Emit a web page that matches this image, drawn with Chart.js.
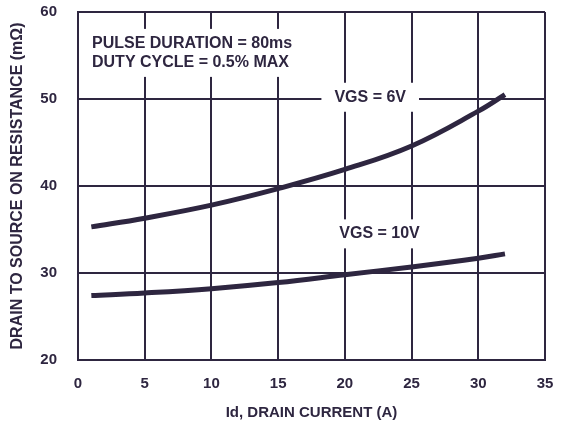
<!DOCTYPE html>
<html>
<head>
<meta charset="utf-8">
<script src="https://cdn.jsdelivr.net/npm/chart.js@4"></script>
<style>
  html, body { margin: 0; padding: 0; background: #fff; }
  #wrap { width: 562px; height: 424px; }
</style>
</head>
<body>
<div id="wrap"><canvas id="rdsChart" width="562" height="424"></canvas></div>
<script>
const ctx = document.getElementById("rdsChart");

// values
const drainCurrent = [1, 5, 10, 15, 20, 25, 30, 32];
const rds6V = [35.3, 36.3, 37.8, 39.7, 41.9, 44.6, 48.6, 50.5];
const rds10V = [27.4, 27.7, 28.2, 28.9, 29.8, 30.7, 31.7, 32.2];
const xTicks = [0, 5, 10, 15, 20, 25, 30, 35];
const yTicks = [20, 30, 40, 50, 60];

const ink = "#2e2640";
const family = "'Liberation Sans', Arial, sans-serif";
const font = { family: family, size: 15, weight: "bold" };

const toPoints = (ys) => drainCurrent.map((x, i) => ({ x: x, y: ys[i] }));

// boxed text labels placed in data coordinates
const notes = [
  { x: 21.9, y: 50.2, lines: ["VGS = 6V"], align: "center" },
  { x: 22.6, y: 34.5, lines: ["VGS = 10V"], align: "center" },
  { x: 1.05, y: 55.3, lines: ["PULSE DURATION = 80ms", "DUTY CYCLE = 0.5% MAX"], align: "left" }
];

const notesPlugin = {
  id: "notes",
  afterDatasetsDraw(chart) {
    const c = chart.ctx;
    const xs = chart.scales.x, ys = chart.scales.y;
    c.save();
    c.font = "bold 16px " + family;
    c.textBaseline = "middle";
    notes.forEach((n) => {
      const px = xs.getPixelForValue(n.x), py = ys.getPixelForValue(n.y);
      const lh = 19;
      const w = Math.max(...n.lines.map((l) => c.measureText(l).width));
      const h = lh * n.lines.length;
      const left = n.align === "center" ? px - w / 2 : px;
      c.fillStyle = "#fff";
      c.fillRect(left - 13, py - h / 2 - 5, w + 26, h + 10);
      c.fillStyle = ink;
      c.textAlign = "left";
      n.lines.forEach((l, i) => {
        c.fillText(l, left, py - h / 2 + lh * i + lh / 2);
      });
    });
    c.restore();
  }
};

new Chart(ctx, {
  type: "scatter",
  data: {
    datasets: [
      {
        label: "VGS = 6V",
        data: toPoints(rds6V),
        showLine: true,
        tension: 0.4,
        borderColor: ink,
        borderWidth: 5,
        pointRadius: 0
      },
      {
        label: "VGS = 10V",
        data: toPoints(rds10V),
        showLine: true,
        tension: 0.4,
        borderColor: ink,
        borderWidth: 5,
        pointRadius: 0
      }
    ]
  },
  options: {
    responsive: false,
    animation: false,
    layout: { padding: { left: 8, right: 17, top: 12, bottom: 2 } },
    plugins: {
      legend: { display: false },
      tooltip: { enabled: false }
    },
    scales: {
      x: {
        type: "linear",
        min: 0,
        max: 35,
        afterBuildTicks: (s) => { s.ticks = xTicks.map((v) => ({ value: v })); },
        afterFit: (s) => { s.height = 62; },
        grid: { color: ink, lineWidth: 2, drawTicks: true, tickLength: 14, tickColor: "rgba(0,0,0,0)" },
        border: { color: ink, width: 2 },
        ticks: { color: ink, font: font, padding: 1, maxRotation: 0 },
        title: {
          display: true,
          text: "Id, DRAIN CURRENT (A)",
          color: ink,
          font: font,
          padding: { top: 8, bottom: 0 }
        }
      },
      y: {
        min: 20,
        max: 60,
        afterBuildTicks: (s) => { s.ticks = yTicks.map((v) => ({ value: v })); },
        afterFit: (s) => { s.width = 70; },
        grid: { color: ink, lineWidth: 2, drawTicks: true, tickLength: 20, tickColor: "rgba(0,0,0,0)" },
        border: { color: ink, width: 2 },
        ticks: { color: ink, font: font, padding: 1 },
        title: {
          display: true,
          text: "DRAIN TO SOURCE ON RESISTANCE (mΩ)",
          color: ink,
          font: { family: family, size: 16, weight: "bold" },
          padding: { top: 0, bottom: 0 }
        }
      }
    }
  },
  plugins: [notesPlugin]
});
</script>
</body>
</html>
